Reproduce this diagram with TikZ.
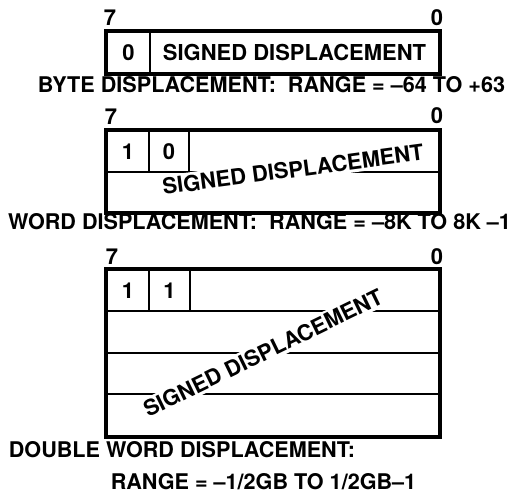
\documentclass[tikz,border=0pt]{standalone}
\usepackage{fontspec}
\setmainfont{TeX Gyre Heros}
\usetikzlibrary{positioning}
\tikzset{
	bitcell/.style={
			draw=black,
			line width=1.1pt,
			minimum height=0.82cm,
			inner sep=0pt,
			font=\fontsize{12.5}{14}\selectfont\bfseries
		},
	outerbox/.style={
			draw=black,
			line width=1.9pt
		},
	bitlabel/.style={
			inner sep=0pt,
			font=\fontsize{12.5}{14}\selectfont\bfseries
		},
	caption/.style={
			inner sep=0pt,
			font=\fontsize{12.3}{14}\selectfont\bfseries
		},
	slanted/.style={
			fill=white,
			inner sep=1.5pt,
			font=\fontsize{12.5}{14}\selectfont\bfseries
		}
}

\begin{document}
\begin{tikzpicture}[x=0.02cm, y=-0.02cm]
\useasboundingbox (0,0) rectangle (521,494);

% byte
\node[bitlabel] (bhi) at (110,18) {7};
\node[bitlabel] (blo) at (437,18) {0};
\node[bitcell, minimum width=0.86cm] (b0) at (128.5,52.5) {0};
\node[bitcell, minimum width=5.78cm] (bs) at (294.5,52.5) {SIGNED DISPLACEMENT};
\draw[outerbox] (b0.north west) rectangle (bs.south east);
\node[caption] (bcap) at (271.5,85) {BYTE DISPLACEMENT:\ \ RANGE = --64 TO +63};

% word
\node[bitlabel] (whi) at (111,117) {7};
\node[bitlabel] (wlo) at (437,116) {0};
\node[bitcell, minimum width=0.84cm] (w1) at (128,151.5) {1};
\node[bitcell, minimum width=0.80cm] (w0) at (169,151.5) {0};
\node[bitcell, minimum width=5.00cm] (wx) at (314,151.5) {};
\node[bitcell, minimum width=6.64cm, minimum height=0.80cm] (wr) at (273,192) {};
\draw[outerbox] (w1.north west) rectangle (wr.south east);
\node[slanted, rotate=7.6] (wtxt) at (293,169.5) {SIGNED DISPLACEMENT};
\node[caption] (wcap) at (259.5,222) {WORD DISPLACEMENT:\ \ RANGE = --8K TO 8K --1};

% double word
\node[bitlabel] (dhi) at (112,257) {7};
\node[bitlabel] (dlo) at (437,257) {0};
\node[bitcell, minimum width=0.84cm] (d1) at (128,290.5) {1};
\node[bitcell, minimum width=0.82cm] (d0) at (169.5,290.5) {1};
\node[bitcell, minimum width=4.98cm] (dx) at (314.5,290.5) {};
\node[bitcell, minimum width=6.64cm, minimum height=0.84cm] (dr1) at (273,332) {};
\node[bitcell, minimum width=6.64cm] (dr2) at (273,373.5) {};
\node[bitcell, minimum width=6.64cm, minimum height=0.84cm] (dr3) at (273,415) {};
\draw[outerbox] (d1.north west) rectangle (dr3.south east);
\node[slanted, rotate=26] (dtxt) at (263,353) {SIGNED DISPLACEMENT};
\node[caption] (dcap1) at (182,450) {DOUBLE WORD DISPLACEMENT:};
\node[caption] (dcap2) at (263.5,482) {RANGE = --1/2GB TO 1/2GB--1};
\end{tikzpicture}
\end{document}
